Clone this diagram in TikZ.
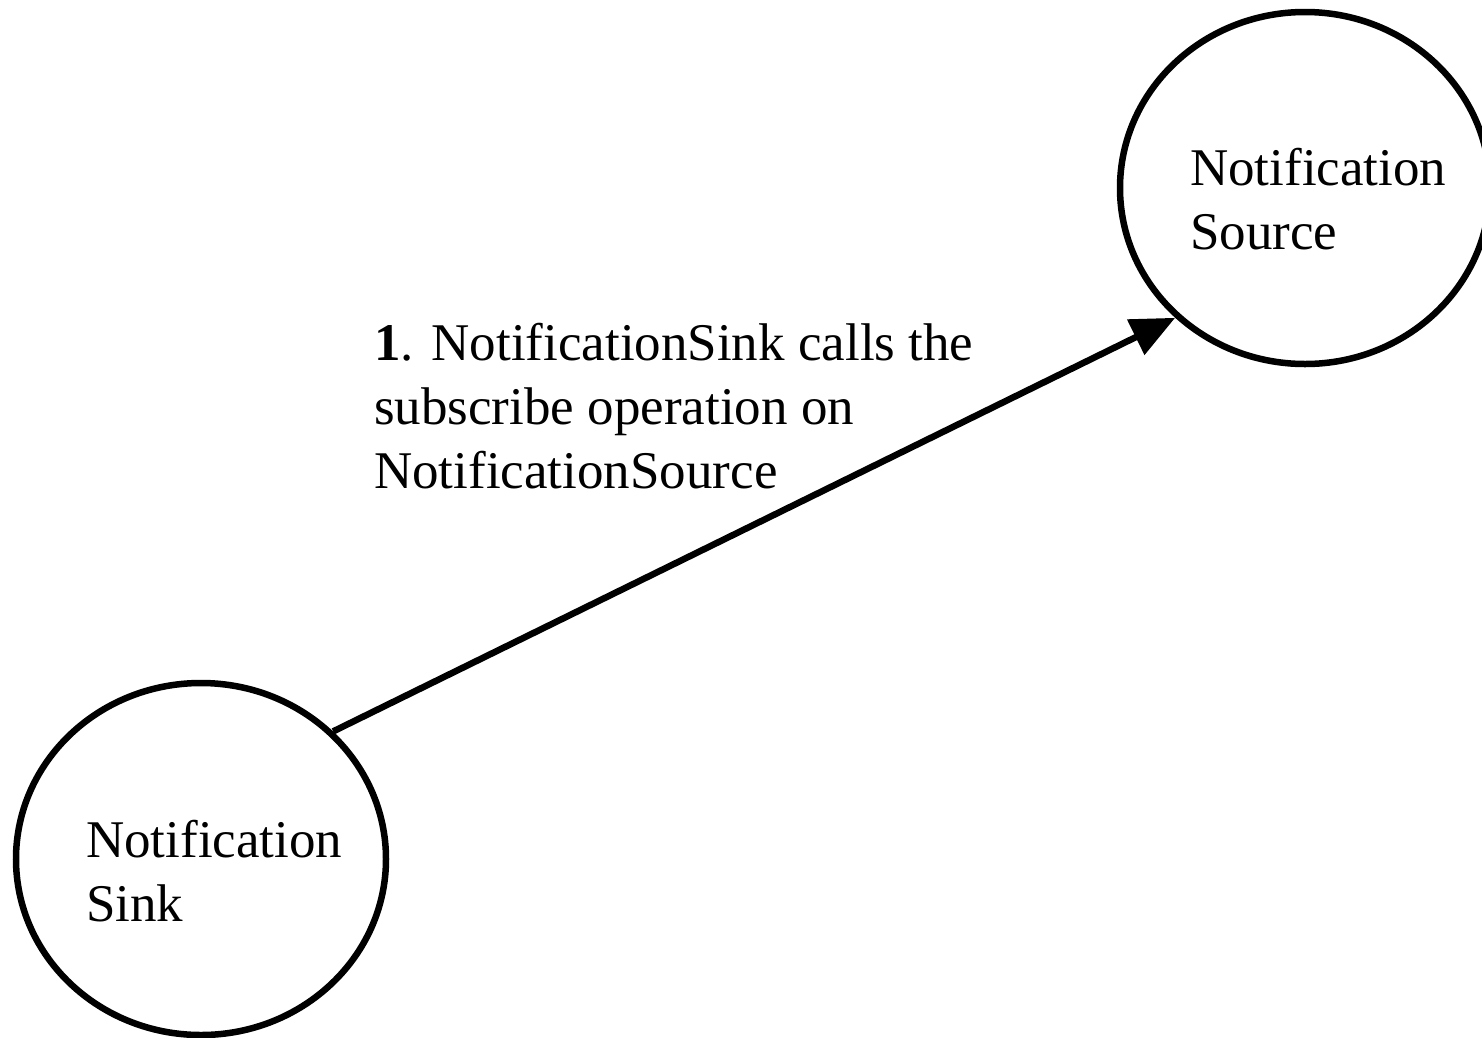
\documentclass[tikz,border=0pt]{standalone}
\usepackage{fontspec}
\setmainfont{Liberation Serif}
\usetikzlibrary{shapes.geometric,arrows.meta}
\begin{document}
\begin{tikzpicture}[x=1pt,y=-1pt,
  state/.style={ellipse,draw,line width=6.5pt,minimum width=370pt,minimum height=352pt,inner sep=0pt},
  txt/.style={font=\fontsize{53}{64}\selectfont,align=left,inner sep=0pt,anchor=base west},
  flow/.style={line width=6.5pt,-{Triangle[length=44pt,width=38pt]}}]
\useasboundingbox (0,0) rectangle (1482,1037);
\node[state] (sink) at (201,859) {};
\node[state] (source) at (1305,188) {};
\node[txt] (sinklbl) at (86,921) {Notification\\Sink};
\node[txt] (sourcelbl) at (1190,249) {Notification\\Source};
\node[txt] (msg) at (374,488) {\textbf{1}. NotificationSink calls the\\subscribe operation on\\NotificationSource};
\draw[flow] (sink.44) -- (source.225);
\end{tikzpicture}
\end{document}
